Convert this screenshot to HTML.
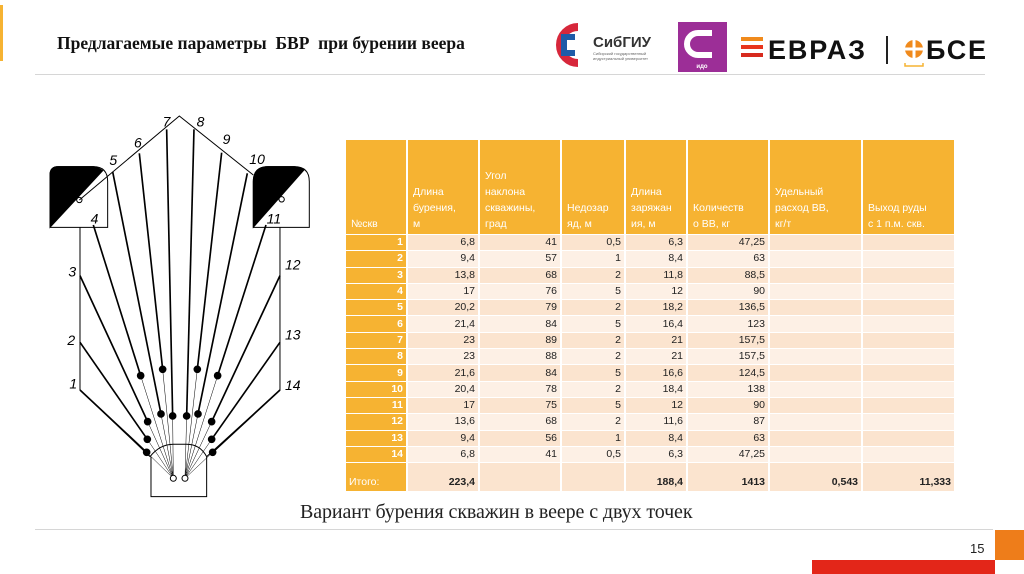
<!DOCTYPE html>
<html><head><meta charset="utf-8">
<style>
body{margin:0;width:1024px;height:574px;overflow:hidden;background:#fff;position:relative;font-family:"Liberation Sans",sans-serif}
.abs{position:absolute}
#tbl{position:absolute;left:344px;top:139px;width:612px;border-collapse:separate;border-spacing:2px 1px;table-layout:fixed;font-size:10.5px}
#tbl td{padding:0 3px;overflow:hidden;white-space:nowrap;color:#222;text-align:right;height:15.3px;line-height:15px}
#tbl th{background:#f6b332;color:#fff;font-weight:normal;text-align:left;vertical-align:bottom;height:92px;padding:0 3px 2px 5px;line-height:16px;font-size:10.5px;overflow:hidden;white-space:nowrap}
#tbl td.n{background:#f6b332;color:#fff;font-weight:bold}
#tbl tr.a td{background:#fbe4cf}
#tbl tr.b td{background:#fdf0e5}
#tbl tr.a td.n,#tbl tr.b td.n,#tbl tr.t td.n{background:#f6b332}
#tbl tr.t td{background:#fbe4cf;height:26px;vertical-align:bottom;font-weight:bold;line-height:14px;padding-bottom:2px}
#tbl tr.t td.n{text-align:left;font-weight:normal}
</style></head><body>
<div class="abs" style="left:0;top:5px;width:3px;height:56px;background:#f6b332"></div>
<div class="abs" style="left:57px;top:33px;font:bold 17.5px 'Liberation Serif',serif;color:#111">Предлагаемые параметры&nbsp; БВР&nbsp; при бурении веера</div>
<div class="abs" style="left:35px;top:74px;width:950px;height:1px;background:#d6d6d6"></div>

<svg class="abs" style="left:540px;top:15px" width="460" height="60">
 <g>
  <path d="M38,12 A14,14 0 1 0 38,48" fill="none" stroke="#d7273b" stroke-width="8"/>
  <path d="M35,22 H24 V38 H35" fill="none" stroke="#1f5ba8" stroke-width="6"/>
  <text x="53" y="32" font-family="Liberation Sans" font-weight="bold" font-size="15" fill="#333">СибГИУ</text>
  <text x="53" y="40" font-family="Liberation Sans" font-size="4" fill="#666">Сибирский государственный</text>
  <text x="53" y="45" font-family="Liberation Sans" font-size="4" fill="#666">индустриальный университет</text>
 </g>
 <g>
  <rect x="138" y="7" width="49" height="50" fill="#9c2e97"/>
  <path d="M172,18 H158 A8,8 0 0 0 158,40 H172" fill="none" stroke="#fff" stroke-width="6"/>
  <text x="162" y="53" text-anchor="middle" font-family="Liberation Sans" font-size="6" font-weight="bold" fill="#fff">идо</text>
 </g>
 <g>
  <rect x="201" y="22" width="22" height="4" fill="#f08a1c"/>
  <rect x="201" y="30" width="22" height="4" fill="#e8351d"/>
  <rect x="201" y="38" width="22" height="4" fill="#d72a1e"/>
  <text x="228" y="44" font-family="Liberation Sans" font-weight="bold" font-size="27" fill="#111" textLength="97">ЕВРАЗ</text>
  <rect x="346" y="21" width="2" height="28" fill="#222"/>
 </g>
 <g>
  <circle cx="374" cy="34" r="9" fill="#f08a1c"/>
  <rect x="372.5" y="24" width="3" height="20" fill="#fff"/><rect x="364" y="32.5" width="20" height="3" fill="#fff"/>
  <path d="M365,48 V51 H383 V48" fill="none" stroke="#f6b332" stroke-width="1.5"/>
  <text x="386" y="44" font-family="Liberation Sans" font-weight="bold" font-size="27" fill="#111" textLength="60">БСЕ</text>
 </g>
</svg>

<svg class="abs" style="left:0;top:0" width="340" height="520">
 <g id="dg" transform="translate(40 110) scale(0.3333)" stroke="#000" fill="none" stroke-width="3">
  <path d="M30,352 V195 Q30,170 55,170 H160 Q203,170 203,215 V352 Z"/>
  <path d="M30,352 L30,195 Q30,170 55,170 H160 Q175,172 188,182 Z" fill="#000"/>
  <path d="M640,352 V215 Q640,170 685,170 H763 Q808,170 808,215 V352 Z"/>
  <path d="M640,352 V215 Q640,170 685,170 H763 Q780,172 792,180 Z" fill="#000"/>
  <circle cx="118" cy="270" r="8" fill="#fff"/><circle cx="725" cy="268" r="8" fill="#fff"/>
  <path d="M118,270 L418,18 L640,195"/>
  <path d="M120,352 V840 L330,1040"/>
  <path d="M720,352 V840 L500,1040"/>
  <path d="M333,1040 V1160 H500 V1040 M330,1040 Q360,1003 400,1003 H440 Q480,1003 500,1040"/>
  <g id="holes"></g>
  <circle cx="400" cy="1105" r="9" fill="#fff"/>
  <circle cx="435" cy="1105" r="9" fill="#fff"/>
 </g>
</svg>

<table id="tbl">
 <colgroup><col style="width:60px"><col style="width:70px"><col style="width:80px"><col style="width:62px"><col style="width:60px"><col style="width:80px"><col style="width:91px"><col style="width:91px"></colgroup>
 <thead><tr>
  <th>№скв</th>
  <th>Длина<br>бурения,<br>м</th>
  <th>Угол<br>наклона<br>скважины,<br>град</th>
  <th>Недозар<br>яд, м</th>
  <th>Длина<br>заряжан<br>ия, м</th>
  <th>Количеств<br>о ВВ, кг</th>
  <th>Удельный<br>расход ВВ,<br>кг/т</th>
  <th>Выход руды<br>с 1 п.м. скв.</th>
 </tr></thead>
 <tbody id="tb"></tbody>
</table>

<div class="abs" style="left:300px;top:501px;font:20px 'Liberation Serif',serif;color:#222;letter-spacing:-0.1px">Вариант бурения скважин в веере с двух точек</div>
<div class="abs" style="left:35px;top:529px;width:958px;height:1px;background:#d6d6d6"></div>
<div class="abs" style="left:970px;top:541px;font-size:13px;color:#222">15</div>
<div class="abs" style="left:995px;top:530px;width:29px;height:30px;background:#ee7d1a"></div>
<div class="abs" style="left:812px;top:560px;width:183px;height:14px;background:#e32619"></div>

<script>
const holeNums=[1,2,3,4,5,6,7,8,9,10,11,12,13,14];
const drillLen=["6,8","9,4","13,8","17","20,2","21,4","23","23","21,6","20,4","17","13,6","9,4","6,8"];
const angles=[41,57,68,76,79,84,89,88,84,78,75,68,56,41];
const underCharge=["0,5","1","2","5","2","5","2","2","5","2","5","2","1","0,5"];
const chargeLen=["6,3","8,4","11,8","12","18,2","16,4","21","21","16,6","18,4","12","11,6","8,4","6,3"];
const explosive=["47,25","63","88,5","90","136,5","123","157,5","157,5","124,5","138","90","87","63","47,25"];
const totals=["Итого:","223,4","","","188,4","1413","0,543","11,333"];
const tb=document.getElementById('tb');
holeNums.forEach((n,i)=>{
  const tr=document.createElement('tr');
  tr.className=i%2?'b':'a';
  
  
  [n,drillLen[i],angles[i],underCharge[i],chargeLen[i],explosive[i],'',''].forEach((v,j)=>{
    const td=document.createElement('td');
    if(j===0)td.className='n';
    td.textContent=v;
    
    
    tr.appendChild(td);
  });
  tb.appendChild(tr);
});
const trt=document.createElement('tr');
trt.className='t';


totals.forEach((v,j)=>{
  const td=document.createElement('td');
  if(j===0)td.className='n';
  td.textContent=v;
  
  
  trt.appendChild(td);
});
tb.appendChild(trt);

const holeEnds=[[120,840],[120,697],[120,497],[160,345],[218,185],[298,130],[380,58],[462,58],[545,128],[622,190],[678,345],[720,497],[720,697],[720,840]];
const holeDots=[[320,1027],[322,988],[323,935],[302,797],[363,912],[368,778],[398,918],[440,918],[472,778],[474,912],[533,797],[515,935],[515,988],[518,1027]];
const labelPos=[[88,835],[82,705],[85,500],[152,340],[208,165],[282,112],[368,50],[470,50],[548,102],[628,162],[680,340],[735,478],[735,688],[735,840]];
const ns='http://www.w3.org/2000/svg';
const hg=document.getElementById('holes');
holeNums.forEach((n,i)=>{
  const o=i<7?[400,1105]:[435,1105];
  const g=document.createElementNS(ns,'g');
  
  
  const thin=document.createElementNS(ns,'line');
  thin.setAttribute('x1',o[0]);thin.setAttribute('y1',o[1]);thin.setAttribute('x2',holeDots[i][0]);thin.setAttribute('y2',holeDots[i][1]);
  thin.setAttribute('stroke-width','1.5');
  const thick=document.createElementNS(ns,'line');
  thick.setAttribute('x1',holeDots[i][0]);thick.setAttribute('y1',holeDots[i][1]);thick.setAttribute('x2',holeEnds[i][0]);thick.setAttribute('y2',holeEnds[i][1]);
  thick.setAttribute('stroke-width','5');
  const dot=document.createElementNS(ns,'circle');
  dot.setAttribute('cx',holeDots[i][0]);dot.setAttribute('cy',holeDots[i][1]);dot.setAttribute('r','10');dot.setAttribute('fill','#000');
  const t=document.createElementNS(ns,'text');
  t.setAttribute('x',labelPos[i][0]);t.setAttribute('y',labelPos[i][1]);
  t.setAttribute('font-family','Liberation Sans');t.setAttribute('font-style','italic');
  t.setAttribute('font-size','42');t.setAttribute('stroke','none');t.setAttribute('fill','#000');
  t.textContent=n;
  g.appendChild(thin);g.appendChild(thick);g.appendChild(dot);g.appendChild(t);
  hg.appendChild(g);
});
</script>
</body></html>
